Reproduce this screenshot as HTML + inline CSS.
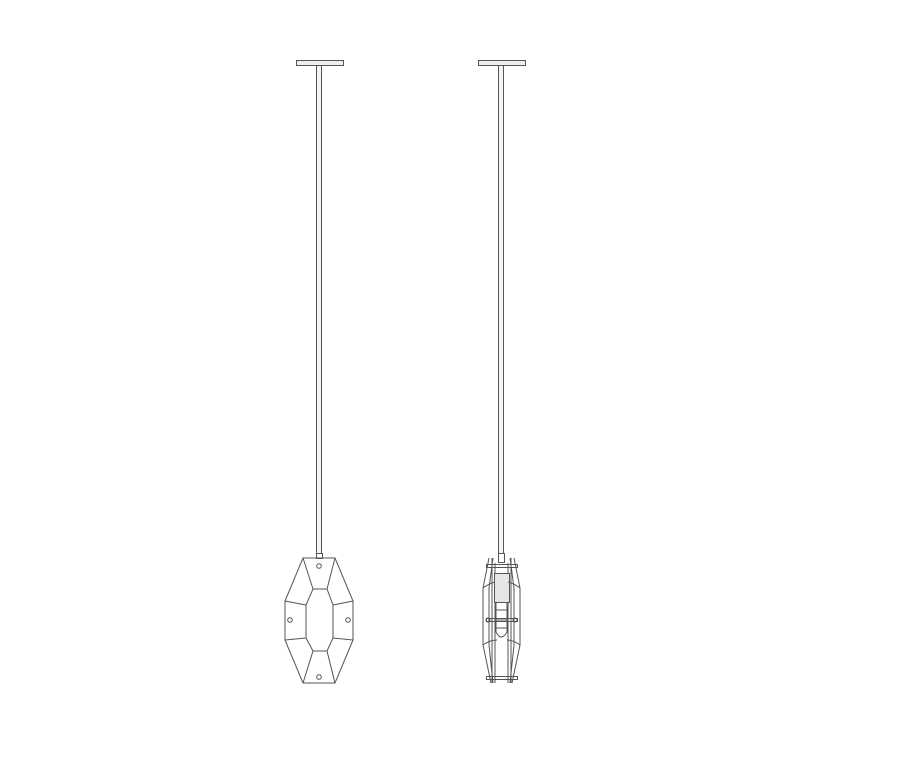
<!DOCTYPE html><html><head><style>body{margin:0;background:#fff}</style></head><body>
<svg width="914" height="762" viewBox="0 0 914 762" fill="none" stroke="#555" stroke-width="1">
<rect x="296.5" y="60.5" width="47" height="5" fill="#eee"/>
<rect x="316.5" y="65.5" width="5" height="488" fill="#f4f4f4"/>
<rect x="316.5" y="553.5" width="6" height="5"/>
<polygon points="303,558 335,558 353,601 353,640 335,683 303,683 285,640 285,601"/>
<polygon points="313,589 327,589 333,605 333,638 327,651 313,651 306,638 306,605"/>
<path d="M303 558L313 589M335 558L327 589M285 601L306 605M285 640L306 638M353 601L333 605M353 640L333 638M303 683L313 651M335 683L327 651"/>
<circle cx="319" cy="566" r="2.3"/><circle cx="290" cy="620" r="2.3"/><circle cx="348" cy="620" r="2.3"/><circle cx="319" cy="677" r="2.3"/>
<rect x="478.5" y="60.5" width="47" height="5" fill="#eee"/>
<rect x="498.5" y="65.5" width="5" height="488" fill="#f4f4f4"/>
<rect x="498.5" y="553.5" width="6" height="9"/>
<path d="M489 558L483 588L483 645L491 683M493 558L489 588L489 645L493 683M514 558L520 588L520 645L512 683M510 558L514 588L514 645L510 683"/>
<path d="M492 558V683M495 563V683M508 563V683M511 558V683"/>
<rect x="494.5" y="573.5" width="15" height="29" fill="#e6e6e6"/>
<path d="M483 588Q490 583 495 582M520 588Q513 583 508 582M483 645Q490 640 497 640M520 645Q513 640 507 640"/>
<path d="M496 602V632Q501 642 507 632V602M496 610H507M496 620H507M496 628H507"/>
<rect x="486.5" y="564.5" width="31" height="3"/><rect x="486.5" y="676.5" width="31" height="3"/><rect x="486.5" y="618.5" width="31" height="3"/>
<circle cx="488" cy="620" r="2"/><circle cx="515" cy="620" r="2"/>
</svg></body></html>
